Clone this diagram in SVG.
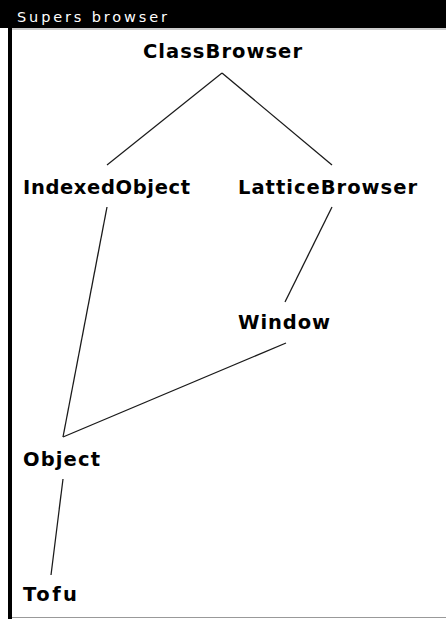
<svg xmlns="http://www.w3.org/2000/svg" width="446" height="619" viewBox="0 0 446 619">
<style>
.node text{font-family:"DejaVu Sans",sans-serif;font-weight:bold;font-size:19.5px;fill:#000}
.title{font-family:"DejaVu Sans",sans-serif;font-size:14.5px;fill:#fff}
#connectors line{stroke:#1a1a1a;stroke-width:1.3;fill:none}
</style>
<rect x="0" y="0" width="446" height="619" fill="#fff"/>
<g id="frame">
<rect x="0" y="0" width="446" height="28" fill="#000"/>
<line x1="12" y1="29" x2="446" y2="29" stroke="#999" stroke-width="1"/>
<rect x="8" y="28" width="4" height="591" fill="#000"/>
<line x1="12" y1="617.5" x2="446" y2="617.5" stroke="#999" stroke-width="1"/>
<text class="title" x="17" y="22" textLength="150">Supers browser</text>
</g>
<g id="connectors">
<line x1="222" y1="73" x2="107" y2="165"/>
<line x1="222" y1="73" x2="332" y2="165"/>
<line x1="107" y1="207" x2="63" y2="437"/>
<line x1="332" y1="207" x2="285" y2="302"/>
<line x1="286" y1="343" x2="63" y2="437"/>
<line x1="63" y1="479" x2="51" y2="575"/>
</g>
<g id="ClassBrowser" class="node"><text x="143" y="58" textLength="159">ClassBrowser</text></g>
<g id="IndexedObject" class="node"><text x="23" y="194" textLength="167">IndexedObject</text></g>
<g id="LatticeBrowser" class="node"><text x="238" y="194" textLength="179">LatticeBrowser</text></g>
<g id="Window" class="node"><text x="238" y="329" textLength="92">Window</text></g>
<g id="Object" class="node"><text x="23" y="466" textLength="77">Object</text></g>
<g id="Tofu" class="node"><text x="23" y="601" textLength="54">Tofu</text></g>
</svg>
